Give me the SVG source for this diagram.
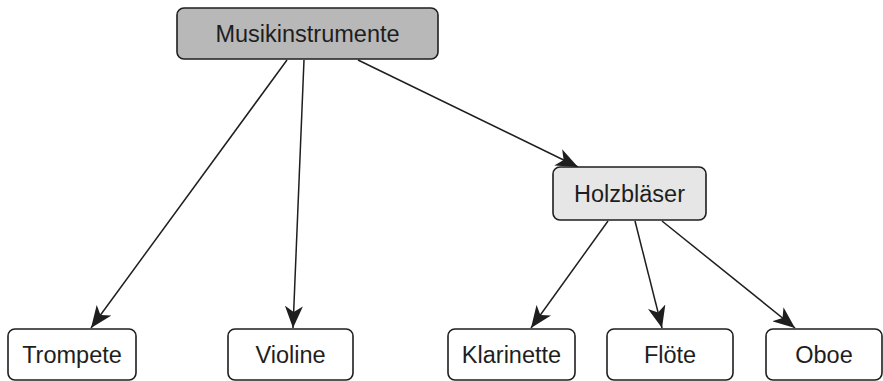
<svg xmlns="http://www.w3.org/2000/svg" width="883" height="381" viewBox="0 0 883 381">
  <style>
    .box { stroke: #1e1e1e; stroke-width: 1.6; }
    .root { fill: #b8b8b8; }
    .mid { fill: #e6e6e6; }
    .leaf { fill: #ffffff; }
    .lbl { font-family: "Liberation Sans", Arial, sans-serif; font-size: 23.5px; fill: #1e1e1e; text-anchor: middle; dominant-baseline: central; }
    .edge { stroke: #1e1e1e; stroke-width: 1.5; fill: none; marker-end: url(#arrow); }
  </style>
  <defs>
    <marker id="arrow" viewBox="0 0 22 18" refX="22" refY="9" markerWidth="22" markerHeight="18" markerUnits="userSpaceOnUse" orient="auto">
      <path d="M0,0 L22,9 L0,18 L6,9 Z" fill="#1e1e1e"/>
    </marker>
  </defs>
  <rect width="883" height="381" fill="#ffffff"/>

  <g id="connectors">
    <line class="edge" x1="287" y1="60" x2="91" y2="328"/>
    <line class="edge" x1="304" y1="60" x2="293" y2="328"/>
    <line class="edge" x1="358" y1="60" x2="578" y2="167"/>
    <line class="edge" x1="608" y1="221" x2="531" y2="328"/>
    <line class="edge" x1="635" y1="221" x2="662" y2="328"/>
    <line class="edge" x1="662" y1="221" x2="795" y2="328"/>
  </g>

  <g id="musikinstrumente">
    <rect class="box root" x="177" y="8" width="261" height="51" rx="7"/>
    <text class="lbl" x="307.5" y="34">Musikinstrumente</text>
  </g>
  <g id="holzblaeser">
    <rect class="box mid" x="553" y="167" width="153" height="53" rx="7"/>
    <text class="lbl" x="629.5" y="194">Holzbläser</text>
  </g>
  <g id="trompete">
    <rect class="box leaf" x="8" y="329" width="128" height="51" rx="7"/>
    <text class="lbl" x="72" y="355">Trompete</text>
  </g>
  <g id="violine">
    <rect class="box leaf" x="228" y="329" width="125" height="51" rx="7"/>
    <text class="lbl" x="290.5" y="355">Violine</text>
  </g>
  <g id="klarinette">
    <rect class="box leaf" x="448" y="329" width="127" height="51" rx="7"/>
    <text class="lbl" x="511.5" y="355">Klarinette</text>
  </g>
  <g id="floete">
    <rect class="box leaf" x="607" y="329" width="126" height="51" rx="7"/>
    <text class="lbl" x="670" y="355">Flöte</text>
  </g>
  <g id="oboe">
    <rect class="box leaf" x="766" y="329" width="116" height="51" rx="7"/>
    <text class="lbl" x="824" y="355">Oboe</text>
  </g>
</svg>
